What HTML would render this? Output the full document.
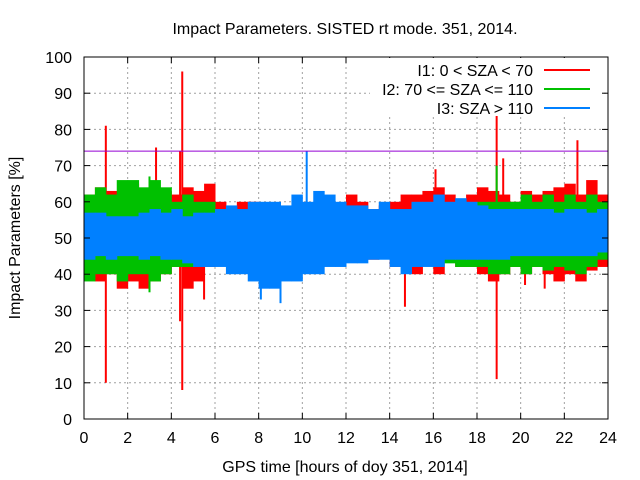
<!DOCTYPE html>
<html><head><meta charset="utf-8"><style>
body{margin:0;background:#fff}
svg{display:block;font-family:"Liberation Sans",sans-serif}
</style></head><body>
<svg id="c" width="640" height="480" xmlns="http://www.w3.org/2000/svg">
<rect width="640" height="480" fill="#fff"/>
<g id="grid"></g>
<g id="series"></g>
<line id="thr" stroke="#9400d3" stroke-width="1"/>
<rect x="84" y="57" width="524" height="362" fill="none" stroke="#000"/>
<g id="ticks" font-size="16" fill="#000"></g>
<text x="345" y="34" text-anchor="middle" font-size="16">Impact Parameters. SISTED rt mode. 351, 2014.</text>
<text x="345" y="472" text-anchor="middle" font-size="16">GPS time [hours of doy 351, 2014]</text>
<text transform="translate(20,238) rotate(-90)" text-anchor="middle" font-size="16">Impact Parameters [%]</text>
<g id="legend" font-size="16">
<rect x="370" y="58" width="232" height="58" fill="#fff"/>
<text x="533" y="76" text-anchor="end">I1: 0 &lt; SZA &lt; 70</text>
<line x1="544" y1="70" x2="590" y2="70" stroke="#ff0000" stroke-width="2"/>
<text x="533" y="95" text-anchor="end">I2: 70 &lt;= SZA &lt;= 110</text>
<line x1="544" y1="89" x2="590" y2="89" stroke="#00c000" stroke-width="2"/>
<text x="533" y="114" text-anchor="end">I3: SZA &gt; 110</text>
<line x1="544" y1="108" x2="590" y2="108" stroke="#0080ff" stroke-width="2"/>
</g>
</svg>
<script>
const xTicks=[0,2,4,6,8,10,12,14,16,18,20,22,24];
const yTicks=[0,10,20,30,40,50,60,70,80,90,100];
const binWidth=0.5;
const threshold=74;
const redHi=[62,64,63,62,65,62,60,63,62,64,63,65,60,58,60,60,58,59,58,57,58,60,60,58,62,60,58,59,60,62,62,63,64,62,60,62,64,63,62,60,63,62,63,64,65,62,66,62];
const redLo=[40,38,40,36,38,36,38,40,42,36,38,42,44,44,43,44,44,42,44,44,43,45,44,44,44,45,44,45,42,42,40,43,40,44,42,42,40,38,40,42,40,42,40,38,40,38,41,42];
const greenHi=[62,64,62,66,66,64,66,64,60,62,60,60,58,58,57,57,56,55,56,56,55,55,55,56,56,56,55,56,57,57,58,58,58,58,58,58,60,60,60,60,62,60,62,60,62,60,62,60];
const greenLo=[38,40,40,38,40,40,38,40,42,42,43,43,44,44,45,45,45,45,45,45,45,45,45,45,45,45,45,45,44,44,44,43,44,43,42,42,42,40,40,42,40,42,41,42,41,40,42,44];
const blueHi=[57,57,56,56,56,57,58,57,58,56,57,57,58,59,58,60,60,60,59,62,60,63,62,60,59,59,58,60,58,58,60,60,62,60,61,60,59,58,58,58,58,58,58,57,58,58,57,58];
const blueLo=[44,45,44,45,45,44,45,44,44,43,42,42,42,40,40,38,36,36,38,38,40,40,42,42,43,43,44,44,42,40,42,42,42,44,44,44,44,44,44,45,45,45,45,45,45,45,45,46];
const redSpikeT=[1.0,3.3,4.4,4.5,5.5,14.7,16.1,18.9,19.2,20.2,21.1,22.6];
const redSpikeLo=[10,45,27,8,33,31,45,11,45,37,36,45];
const redSpikeHi=[81,75,74,96,55,55,69,87,72,55,55,77];
const greenSpikeT=[18.9,3.0];
const greenSpikeLo=[45,35];
const greenSpikeHi=[70,67];
const blueSpikeT=[8.1,9.0,10.2];
const blueSpikeLo=[33,32,45];
const blueSpikeHi=[55,55,74];

const X=t=>84+t*(524/24), Y=v=>419-v*3.62;
const NS="http://www.w3.org/2000/svg";
function mk(tag,attrs,parent){const e=document.createElementNS(NS,tag);for(const k in attrs)e.setAttribute(k,attrs[k]);parent.appendChild(e);return e;}
const grid=document.getElementById('grid'),ticks=document.getElementById('ticks'),ser=document.getElementById('series');
xTicks.forEach(t=>{
 if(t>0&&t<24){const g=mk('line',{x1:X(t),x2:X(t),y1:57,y2:419,stroke:'#a0a0a0','stroke-dasharray':'2,3'},grid);
 
 }
 mk('line',{x1:X(t),x2:X(t),y1:419,y2:413,stroke:'#000'},ticks);
 mk('line',{x1:X(t),x2:X(t),y1:57,y2:63,stroke:'#000'},ticks);
 const l=mk('text',{x:X(t),y:443,'text-anchor':'middle'},ticks);l.textContent=t;
 
 
});
yTicks.forEach(v=>{
 if(v>0&&v<100){const g=mk('line',{x1:84,x2:608,y1:Y(v),y2:Y(v),stroke:'#a0a0a0','stroke-dasharray':'2,3'},grid);
 
 }
 mk('line',{x1:84,x2:90,y1:Y(v),y2:Y(v),stroke:'#000'},ticks);
 mk('line',{x1:602,x2:608,y1:Y(v),y2:Y(v),stroke:'#000'},ticks);
 const l=mk('text',{x:72,y:Y(v)+6,'text-anchor':'end'},ticks);l.textContent=v;
 
 
});
function band(hi,lo,sT,sLo,sHi,color,name){
 const g=mk('g',{},ser);
 
 
 hi.forEach((h,i)=>{
  const x0=X(i*binWidth),x1=X(Math.min(24,(i+1)*binWidth));
  const r=mk('rect',{x:x0,y:Y(h),width:x1-x0+0.5,height:Y(lo[i])-Y(h),fill:color},g);
  
  
 });
 sT.forEach((t,i)=>{
  const s=mk('line',{x1:X(t),x2:X(t),y1:Y(sHi[i]),y2:Y(sLo[i]),stroke:color,'stroke-width':2},g);
  
  
 });
}
band(redHi,redLo,redSpikeT,redSpikeLo,redSpikeHi,'#ff0000','series-i1');
band(greenHi,greenLo,greenSpikeT,greenSpikeLo,greenSpikeHi,'#00c000','series-i2');
band(blueHi,blueLo,blueSpikeT,blueSpikeLo,blueSpikeHi,'#0080ff','series-i3');
const th=document.getElementById('thr');
th.setAttribute('x1',84);th.setAttribute('x2',608);th.setAttribute('y1',Y(threshold));th.setAttribute('y2',Y(threshold));
</script>
</body></html>
